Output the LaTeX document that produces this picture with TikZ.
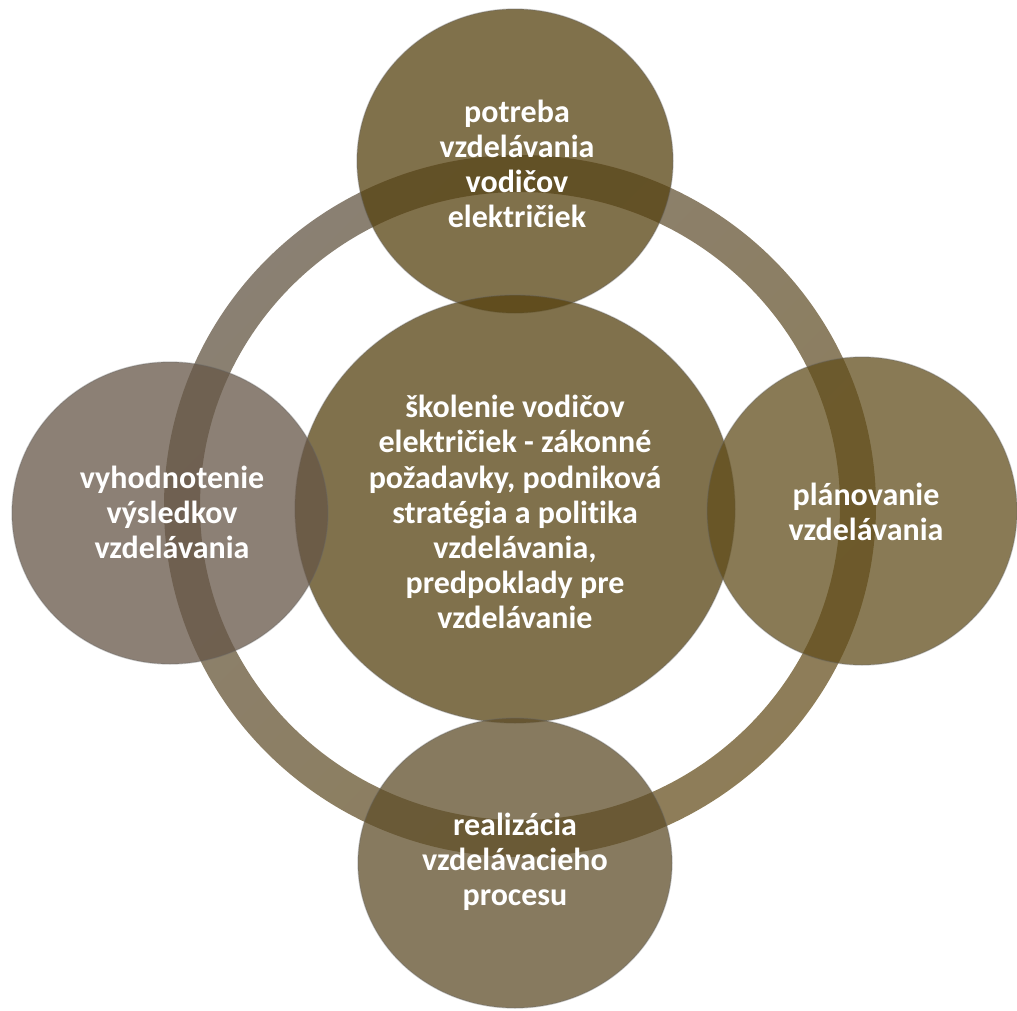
\documentclass[tikz,border=0pt]{standalone}
\usepackage{fontspec}
\setmainfont{Carlito}[Ligatures=NoCommon]
\definecolor{ringgray}{RGB}{99,86,68}
\definecolor{ringolive}{RGB}{104,82,32}
\definecolor{olivetop}{RGB}{86,65,15}
\definecolor{olivemid}{RGB}{86,66,16}
\definecolor{oliveright}{RGB}{98,78,28}
\definecolor{olivebottom}{RGB}{95,78,42}
\definecolor{grayleft}{RGB}{102,86,71}
\begin{document}
\begin{tikzpicture}[x=0.75pt,y=-0.75pt,
	bubble/.style={fill opacity=0.75, draw=black!60, draw opacity=0.35, line width=1pt},
	lbl/.style={text=white, align=center, font=\bfseries\fontsize{24}{26.3}\selectfont}]
	\useasboundingbox (0,0) rectangle (1017,1010);
	% ring
	\shade[even odd rule, top color=ringgray, bottom color=ringolive, shading angle=45, opacity=0.75]
		(520,506) ellipse [x radius=356, y radius=351]
		(520,506) ellipse [x radius=320, y radius=314];
	% circles
	\foreach \cx/\cy/\rx/\ry/\col in {515/161/158/152/olivetop, 515/509/220/214/olivemid,
		170/513/158/151/grayleft, 862/511/155/154/oliveright, 515/863/157/145/olivebottom}{
		\filldraw[bubble, fill=\col] (\cx,\cy) ellipse [x radius=\rx, y radius=\ry];}
	% labels
	\node[lbl] (need) at (517,164) {potreba\\vzdelávania\\vodičov\\električiek};
	\node[lbl] (core) at (515,512) {školenie vodičov\\električiek - zákonné\\požadavky, podniková\\stratégia a politika\\vzdelávania,\\predpoklady pre\\vzdelávanie};
	\node[lbl] (eval) at (172,512) {vyhodnotenie\\výsledkov\\vzdelávania};
	\node[lbl] (plan) at (866,512) {plánovanie\\vzdelávania};
	\node[lbl] (real) at (515,862) {realizácia\\vzdelávacieho\\procesu};
\end{tikzpicture}
\end{document}
